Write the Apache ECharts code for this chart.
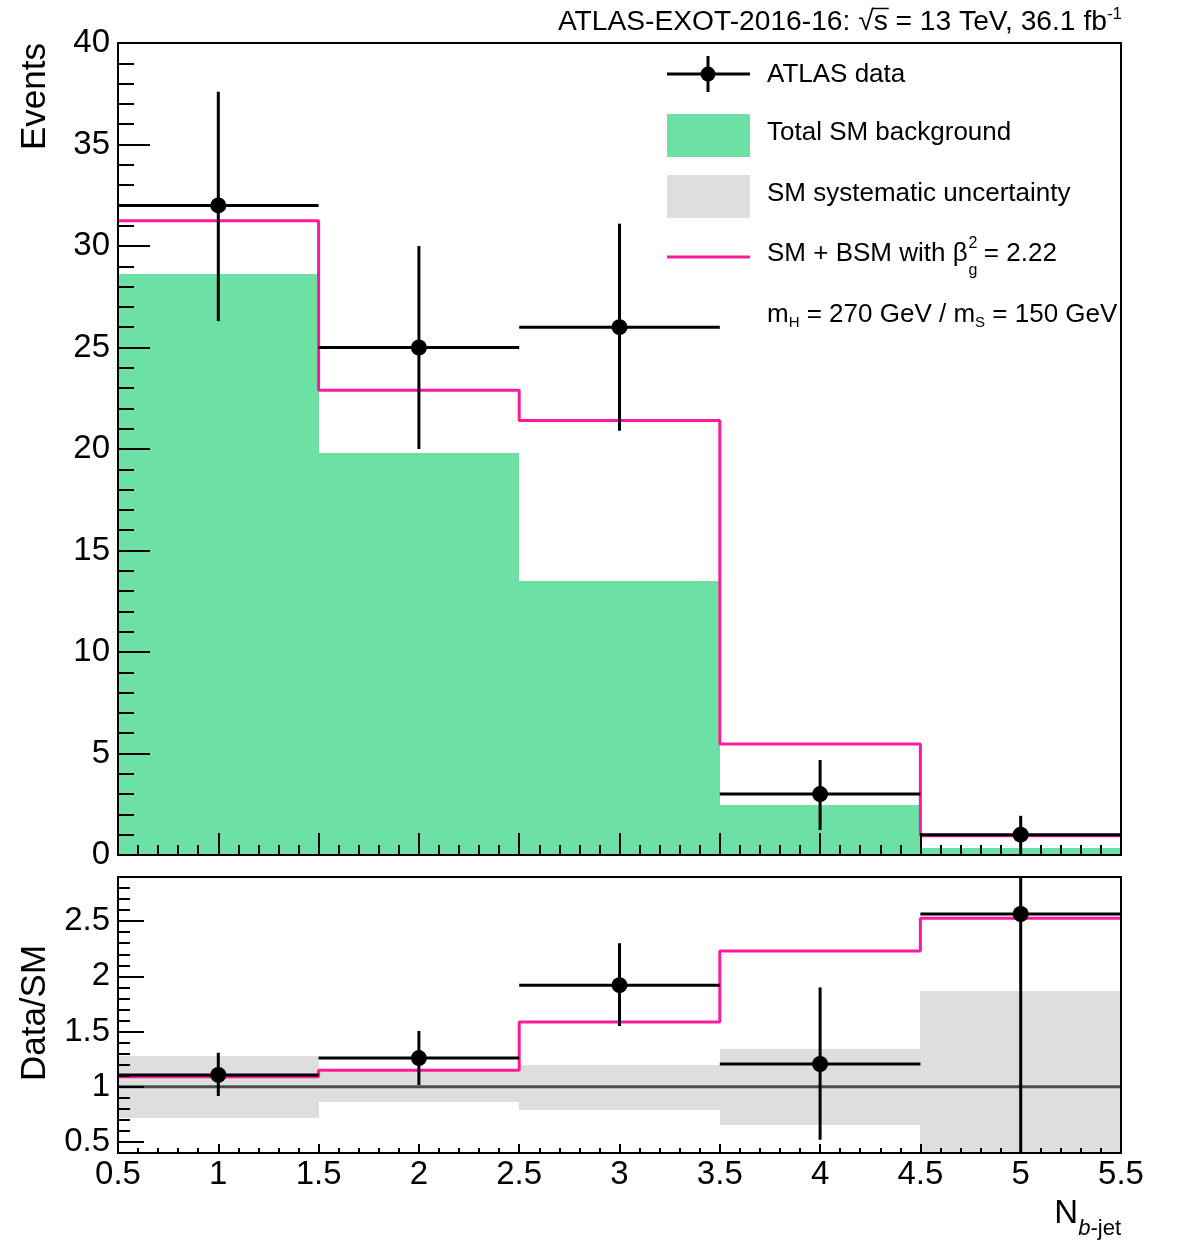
<!DOCTYPE html>
<html>
<head>
<meta charset="utf-8">
<script src="https://cdn.jsdelivr.net/npm/echarts@6/dist/echarts.min.js"></script>
<style>
  html, body { margin: 0; padding: 0; background: #fff; }
  #chart { width: 1182px; height: 1248px; }
</style>
</head>
<body>
<div id="chart"></div>
<script>
const FONT = "'Liberation Sans', Arial, Helvetica, sans-serif";

// binning in N_b-jet
const binEdges = [0.5, 1.5, 2.5, 3.5, 4.5, 5.5];
const binCenters = [1, 2, 3, 4, 5];

// upper panel (events)
const dataEvents = [32, 25, 26, 3, 1];
const dataErrLow = [26.3, 20.0, 20.9, 1.23, 0];
const dataErrHigh = [37.6, 30.0, 31.1, 4.68, 1.93];
const smBackground = [28.6, 19.8, 13.5, 2.45, 0.36];
const smPlusBsm = [31.25, 22.9, 21.4, 5.47, 0.95];

// lower panel (data / SM)
const ratioData = [1.107, 1.26, 1.92, 1.206, 2.565];
const ratioErrLow = [0.916, 1.016, 1.55, 0.52, 0];
const ratioErrHigh = [1.308, 1.505, 2.30, 1.90, 5.1];
const ratioBsm = [1.09, 1.15, 1.586, 2.23, 2.526];
const systLow = [0.717, 0.865, 0.79, 0.654, 0.13];
const systHigh = [1.279, 1.14, 1.197, 1.34, 1.867];

const GREEN = "#6de0a5";
const PINK = "#ff1a9c";
const GREY = "#dedede";

// measure text for hand-placed legend pieces
const ctx = document.createElement("canvas").getContext("2d");
function textWidth(str, size) {
  ctx.font = size + "px " + FONT;
  return ctx.measureText(str).width;
}

// filled box per bin: [xlo, xhi, ylo, yhi]
function renderBox(params, api) {
  const p1 = api.coord([api.value(0), api.value(3)]);
  const p2 = api.coord([api.value(1), api.value(2)]);
  const x1 = Math.round(p1[0]), x2 = Math.round(p2[0]);
  const y1 = Math.round(p1[1]), y2 = Math.round(p2[1]);
  const rect = echarts.graphic.clipRectByRect(
    { x: x1, y: y1, width: x2 - x1, height: y2 - y1 },
    params.coordSys
  );
  if (!rect) return null;
  return { type: "rect", shape: rect, style: { fill: api.visual("color") } };
}

// data point with error bars: [x, y, ylo, yhi, xlo, xhi]
function renderErrorBar(params, api) {
  const cs = params.coordSys;
  const c = api.coord([api.value(0), api.value(1)]);
  const lo = api.coord([api.value(0), api.value(2)]);
  const hi = api.coord([api.value(0), api.value(3)]);
  const left = api.coord([api.value(4), api.value(1)]);
  const right = api.coord([api.value(5), api.value(1)]);
  const yTop = Math.max(hi[1], cs.y);
  const yBot = Math.min(lo[1], cs.y + cs.height);
  return {
    type: "group",
    children: [
      { type: "line", shape: { x1: left[0], y1: c[1], x2: right[0], y2: c[1] }, style: { stroke: "#000", lineWidth: 3 } },
      { type: "line", shape: { x1: c[0], y1: yTop, x2: c[0], y2: yBot }, style: { stroke: "#000", lineWidth: 3 } },
      { type: "circle", shape: { cx: c[0], cy: c[1], r: 8 }, style: { fill: "#000" } },
    ],
  };
}

const boxData = (lo, hi) => binCenters.map((_, i) => [binEdges[i], binEdges[i + 1], lo[i], hi[i]]);
const stepData = (vals) => binEdges.map((e, i) => [e, vals[Math.min(i, vals.length - 1)]]);
const pointData = (vals, lo, hi) => binCenters.map((x, i) => [x, vals[i], lo[i], hi[i], binEdges[i], binEdges[i + 1]]);

const axisLine = { show: true, onZero: false, lineStyle: { color: "#000", width: 2 } };
const labelStyle = { color: "#000", fontSize: 33, fontFamily: FONT };

function xAxisFor(gridIndex, showLabels, major, minor) {
  return {
    type: "value", gridIndex, min: 0.5, max: 5.5, interval: 0.5, z: 5,
    axisLine,
    axisTick: { show: true, inside: true, length: major, lineStyle: { color: "#000", width: 2 } },
    minorTick: { show: true, splitNumber: 5, length: minor, lineStyle: { color: "#000", width: 2 } },
    splitLine: { show: false },
    axisLabel: Object.assign({ show: showLabels, margin: 5, showMinLabel: true, showMaxLabel: true }, labelStyle),
  };
}

const chart = echarts.init(document.getElementById("chart"), null, { renderer: "canvas" });

// legend pieces
const LX = 767;
const LF = 26;
const betaText = "SM + BSM with \u03b2";
const betaW = textWidth(betaText, LF);

// header overline over the s of sqrt(s)
const headMain = "ATLAS-EXOT-2016-16: \u221as = 13 TeV, 36.1 fb";
const headRight = 1122;
const HF = 28.2;
const headW = textWidth(headMain, HF) + textWidth("-1", 17);
const sStart = headRight - headW + textWidth("ATLAS-EXOT-2016-16: \u221a", HF);
const sW = textWidth("s", HF);

const graphic = [
  // header
  {
    type: "text", x: headRight, y: 22, z: 20,
    style: {
      text: "{t|" + headMain + "}{sup|-1}", align: "right", verticalAlign: "middle",
      rich: {
        t: { fontSize: HF, fontFamily: FONT, fill: "#000", verticalAlign: "middle" },
        sup: { fontSize: 17, fontFamily: FONT, fill: "#000", padding: [0, 0, 15, 0], verticalAlign: "middle" },
      },
    },
  },
  { type: "line", z: 20, shape: { x1: sStart - 1, y1: 8.5, x2: sStart + sW + 1, y2: 8.5 }, style: { stroke: "#000", lineWidth: 1.5 } },

  // axis titles
  {
    type: "text", x: 35, y: 43, rotation: Math.PI / 2, z: 20,
    style: { text: "Events", fontSize: 35, fontFamily: FONT, fill: "#000", align: "right", verticalAlign: "middle" },
  },
  {
    type: "text", x: 35, y: 1013, rotation: Math.PI / 2, z: 20,
    style: { text: "Data/SM", fontSize: 35, fontFamily: FONT, fill: "#000", align: "center", verticalAlign: "middle" },
  },
  {
    type: "text", x: 1121, y: 1214, z: 20,
    style: {
      text: "{n|N}{b|b}{s|-jet}", align: "right", verticalAlign: "middle",
      rich: {
        n: { fontSize: 33, fontFamily: FONT, fill: "#000", verticalAlign: "middle" },
        b: { fontSize: 22, fontFamily: FONT, fontStyle: "italic", fill: "#000", padding: [30, 0, 0, 0], verticalAlign: "middle" },
        s: { fontSize: 22, fontFamily: FONT, fill: "#000", padding: [30, 0, 0, 0], verticalAlign: "middle" },
      },
    },
  },

  // legend: ATLAS data
  { type: "line", z: 20, shape: { x1: 667, y1: 74, x2: 750, y2: 74 }, style: { stroke: "#000", lineWidth: 3 } },
  { type: "line", z: 20, shape: { x1: 708, y1: 56, x2: 708, y2: 92 }, style: { stroke: "#000", lineWidth: 3 } },
  { type: "circle", z: 20, shape: { cx: 708, cy: 74, r: 7.5 }, style: { fill: "#000" } },
  { type: "text", z: 20, x: LX, y: 75, style: { text: "ATLAS data", fontSize: LF, fontFamily: FONT, fill: "#000", verticalAlign: "middle" } },
  // legend: SM background
  { type: "rect", z: 20, shape: { x: 667, y: 114, width: 83, height: 43 }, style: { fill: GREEN } },
  { type: "text", z: 20, x: LX, y: 133, style: { text: "Total SM background", fontSize: LF, fontFamily: FONT, fill: "#000", verticalAlign: "middle" } },
  // legend: systematics
  { type: "rect", z: 20, shape: { x: 667, y: 175, width: 83, height: 43 }, style: { fill: GREY } },
  { type: "text", z: 20, x: LX, y: 194, style: { text: "SM systematic uncertainty", fontSize: LF, fontFamily: FONT, fill: "#000", verticalAlign: "middle" } },
  // legend: SM + BSM
  { type: "line", z: 20, shape: { x1: 667, y1: 257, x2: 750, y2: 257 }, style: { stroke: PINK, lineWidth: 3 } },
  { type: "text", z: 20, x: LX, y: 254, style: { text: betaText, fontSize: LF, fontFamily: FONT, fill: "#000", verticalAlign: "middle" } },
  { type: "text", z: 20, x: LX + betaW + 1, y: 244, style: { text: "2", fontSize: 16, fontFamily: FONT, fill: "#000", verticalAlign: "middle" } },
  { type: "text", z: 20, x: LX + betaW + 1, y: 271, style: { text: "g", fontSize: 16, fontFamily: FONT, fill: "#000", verticalAlign: "middle" } },
  { type: "text", z: 20, x: LX + betaW + 9, y: 254, style: { text: " = 2.22", fontSize: LF, fontFamily: FONT, fill: "#000", verticalAlign: "middle" } },
  // legend: mass point
  {
    type: "text", z: 20, x: LX, y: 315,
    style: {
      text: "{t|m}{s|H}{t| = 270 GeV / m}{s|S}{t| = 150 GeV}", verticalAlign: "middle",
      rich: {
        t: { fontSize: LF, fontFamily: FONT, fill: "#000", verticalAlign: "middle" },
        s: { fontSize: 15, fontFamily: FONT, fill: "#000", padding: [16, 0, 0, 0], verticalAlign: "middle" },
      },
    },
  },
];

const option = {
  animation: false,
  backgroundColor: "#fff",
  textStyle: { fontFamily: FONT },
  grid: [
    { left: 118, top: 43, width: 1003, height: 812, show: true, borderColor: "#000", borderWidth: 2, backgroundColor: "transparent", z: 10 },
    { left: 118, top: 877, width: 1003, height: 276, show: true, borderColor: "#000", borderWidth: 2, backgroundColor: "transparent", z: 10 },
  ],
  xAxis: [xAxisFor(0, false, 22, 10), xAxisFor(1, true, 9, 5)],
  yAxis: [
    {
      type: "value", gridIndex: 0, min: 0, max: 40, interval: 5, z: 5,
      axisLine,
      axisTick: { show: true, inside: true, length: 32, lineStyle: { color: "#000", width: 2 } },
      minorTick: { show: true, splitNumber: 5, length: 16, lineStyle: { color: "#000", width: 2 } },
      splitLine: { show: false },
      axisLabel: Object.assign({ margin: 8 }, labelStyle),
    },
    {
      type: "value", gridIndex: 1, min: 0.4, max: 2.9, splitNumber: 5, z: 5,
      axisLine,
      axisTick: { show: true, inside: true, length: 26, lineStyle: { color: "#000", width: 2 } },
      minorTick: { show: true, splitNumber: 5, length: 12, lineStyle: { color: "#000", width: 2 } },
      splitLine: { show: false },
      axisLabel: Object.assign({ margin: 8, showMinLabel: false, showMaxLabel: false }, labelStyle),
    },
  ],
  series: [
    {
      name: "Total SM background", type: "custom", xAxisIndex: 0, yAxisIndex: 0,
      renderItem: renderBox, itemStyle: { color: GREEN },
      encode: { x: [0, 1], y: [2, 3] }, data: boxData(smBackground.map(() => 0), smBackground), z: 2,
    },
    {
      name: "SM + BSM", type: "line", xAxisIndex: 0, yAxisIndex: 0, step: "end",
      symbol: "none", lineStyle: { color: PINK, width: 3 }, data: stepData(smPlusBsm), z: 3,
    },
    {
      name: "ATLAS data", type: "custom", xAxisIndex: 0, yAxisIndex: 0,
      renderItem: renderErrorBar, encode: { x: 0, y: 1 }, data: pointData(dataEvents, dataErrLow, dataErrHigh), z: 4,
    },
    {
      name: "SM systematic uncertainty", type: "custom", xAxisIndex: 1, yAxisIndex: 1,
      renderItem: renderBox, itemStyle: { color: GREY },
      encode: { x: [0, 1], y: [2, 3] }, data: boxData(systLow, systHigh), z: 2,
    },
    {
      name: "unity", type: "line", xAxisIndex: 1, yAxisIndex: 1,
      symbol: "none", lineStyle: { color: "#4d4d4d", width: 3 }, data: [[0.5, 1], [5.5, 1]], z: 3,
    },
    {
      name: "SM + BSM ratio", type: "line", xAxisIndex: 1, yAxisIndex: 1, step: "end",
      symbol: "none", lineStyle: { color: PINK, width: 3 }, data: stepData(ratioBsm), z: 3,
    },
    {
      name: "Data/SM", type: "custom", xAxisIndex: 1, yAxisIndex: 1,
      renderItem: renderErrorBar, encode: { x: 0, y: 1 }, data: pointData(ratioData, ratioErrLow, ratioErrHigh), z: 4,
    },
  ],
  graphic,
};

chart.setOption(option);
</script>
</body>
</html>
